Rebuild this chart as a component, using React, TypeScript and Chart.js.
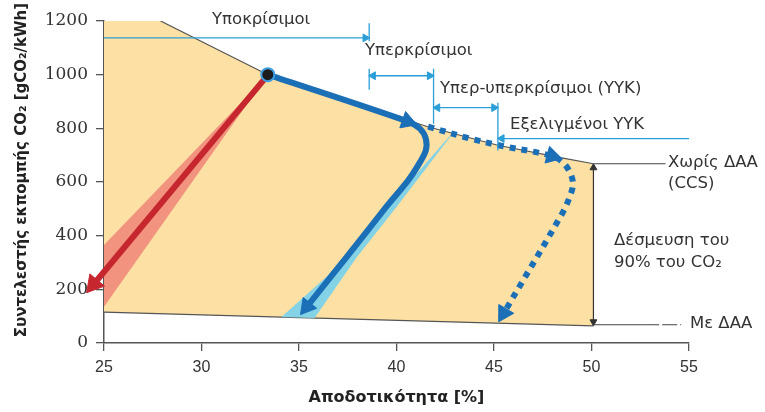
import React, { useEffect, useRef } from 'react';
import { Chart, registerables } from 'chart.js';

Chart.register(...registerables);

// ---- axes ----
const xMin = 25, xMax = 55, xStep = 5;
const yMin = 0, yMax = 1200, yStep = 200;
const xTitle = 'Αποδοτικότητα [%]';
const yTitle = 'Συντελεστής εκπομπής CO₂ [gCO₂/kWh]';

// ---- envelope (shaded region) ----
const envTopX = [25, 27.9, 33.4, 41.6, 45.2, 48.4, 50.1];
const envTopY = [1200, 1200, 1000, 806, 737, 691, 668];
const envBotX = [25, 50.1];
const envBotY = [115, 64];

// ---- red band + path ----
const redBandUpX = [25, 33.4];
const redBandUpY = [365, 1000];
const redBandLoX = [25, 33.4];
const redBandLoY = [135, 1000];
const redPathX = [33.3, 24.47];
const redPathY = [990, 219];

// ---- cyan band ----
const cyanEdgeAX = [34.1, 36.44, 42.75];
const cyanEdgeAY = [97, 249, 773];
const cyanEdgeBX = [34.1, 35.8, 37.96, 39.98, 42.8];
const cyanEdgeBY = [97, 93, 320, 505, 773];

// ---- blue main path ----
const bluePathX = [33.4, 40.56, 41.2, 41.5, 41.5, 41.1, 40.6, 39.45, 37.44, 35.4];
const bluePathY = [1000, 826, 799, 762, 717, 661, 606, 505, 320, 135];
const bluePathArrows = [1, 9];

// ---- blue dotted path ----
const dotPathX = [41.62, 43.77, 45.3, 47.98, 48.54, 48.9, 49.05, 48.85, 48.5, 45.5];
const dotPathY = [806, 762, 736, 697, 672, 635, 591, 539, 483, 111];
const dotPathArrows = [3, 9];

// ---- start point ----
const startX = [33.4];
const startY = [1000];

// ---- range markers (technology classes) ----
const subcritX = [25, 38.4];
const subcritY = [1137, 1137];
const bar1aX = [38.6, 38.6];
const bar1aY = [1192, 1125];
const bar1bX = [38.6, 38.6];
const bar1bY = [1022, 944];
const supercritX = [38.8, 41.7];
const supercritY = [996, 996];
const bar2X = [41.9, 41.9];
const bar2Y = [1022, 817];
const usupercritX = [42.1, 45.0];
const usupercritY = [877, 877];
const bar3X = [45.2, 45.2];
const bar3Y = [895, 717];
const advancedX = [45.4, 55];
const advancedY = [762, 762];

// ---- CCS markers ----
const ccsArrowX = [50.1, 50.1];
const ccsArrowY = [653, 79];
const noCcsLineX = [50.1, 53.8];
const noCcsLineY = [668, 668];
const withCcsSolidX = [50.1, 52.7];
const withCcsSolidY = [68, 68];
const withCcsDashX = [52.7, 54.6];
const withCcsDashY = [68, 68];

// ---- text labels ----
const labelTexts = ['Υποκρίσιμοι', 'Υπερκρίσιμοι', 'Υπερ-υπερκρίσιμοι (ΥΥΚ)', 'Εξελιγμένοι ΥΥΚ', 'Χωρίς ΔΑΑ', '(CCS)', 'Δέσμευση του', '90% του CO₂', 'Με ΔΑΑ'];
const labelX = [30.54, 38.38, 42.23, 45.82, 53.92, 53.92, 51.15, 51.15, 55.05];
const labelY = [1204, 1088, 947, 814, 672, 594, 383, 301, 71];

const pts = (xs: number[], ys: number[]) => xs.map((x, i) => ({ x, y: ys[i] }));

const BLUE = '#1b6fb6';
const LBLUE = '#2a9fd8';
const RED = '#c6262e';
const GREY = '#555';
const NONE = 'rgba(0,0,0,0)';

function arrowRotation(c: any) {
  const ds = c.dataset;
  const i = c.dataIndex;
  const d = ds.data;
  const xs = c.chart.scales.x;
  const ys = c.chart.scales.y;
  if (!xs || !ys || d.length < 2) return 0;
  let a, b;
  if (i === 0) { a = d[1]; b = d[0]; } else { a = d[i - 1]; b = d[Math.min(i + 1, d.length - 1)]; }
  const dx = xs.getPixelForValue(b.x) - xs.getPixelForValue(a.x);
  const dy = ys.getPixelForValue(b.y) - ys.getPixelForValue(a.y);
  const r = Math.atan2(dx, -dy) * 180 / Math.PI;
  return isFinite(r) ? r : 0;
}

function arrowLine(data: any[], color: string, width: number, arrows: number[], size: number, extra: any = {}) {
  return {
    data,
    borderColor: color,
    borderWidth: width,
    backgroundColor: color,
    fill: false,
    tension: 0,
    arrowIdx: arrows,
    arrowSize: size,
    pointStyle: 'triangle',
    pointRadius: (c: any) => (c.dataset.arrowIdx.includes(c.dataIndex) ? c.dataset.arrowSize : 0),
    pointHoverRadius: 20,
    pointRotation: arrowRotation,
    pointBackgroundColor: color,
    pointBorderColor: color,
    pointBorderWidth: 1,
    order: 2,
    ...extra,
  };
}

const labelPlugin = {
  id: 'labelPlugin',
  afterDatasetsDraw(chart: any) {
    const { ctx } = chart;
    const xs = chart.scales.x;
    const ys = chart.scales.y;
    ctx.save();
    ctx.font = '16.5px "DejaVu Sans", Verdana, sans-serif';
    ctx.fillStyle = '#333';
    ctx.textBaseline = 'middle';
    ctx.textAlign = 'left';
    labelTexts.forEach((t, i) => {
      ctx.fillText(t, xs.getPixelForValue(labelX[i]), ys.getPixelForValue(labelY[i]));
    });
    ctx.translate(22, 170);
    ctx.rotate(-Math.PI / 2);
    ctx.font = 'bold 15px "DejaVu Sans", Verdana, sans-serif';
    ctx.fillStyle = '#222';
    ctx.textAlign = 'center';
    ctx.fillText(yTitle, 0, 0);
    ctx.restore();
  },
};

export default function App() {
  const ref = useRef<HTMLCanvasElement>(null);
  useEffect(() => {
    const datasets: any[] = [
      // 0 envelope top (fill down to dataset 1)
      { data: pts(envTopX, envTopY), fill: 1, backgroundColor: '#fde0a3', borderColor: NONE, borderWidth: 0, pointRadius: 0, tension: 0, order: 20 },
      // 1 envelope bottom
      { data: pts(envBotX, envBotY), fill: false, borderColor: GREY, borderWidth: 1.2, pointRadius: 0, order: 19 },
      // 2 red band upper
      { data: pts(redBandUpX, redBandUpY), fill: 3, backgroundColor: '#f2937f', borderColor: NONE, borderWidth: 0, pointRadius: 0, order: 15 },
      // 3 red band lower
      { data: pts(redBandLoX, redBandLoY), fill: false, borderColor: NONE, borderWidth: 0, pointRadius: 0, order: 14 },
      // 4 cyan band edge A
      { data: pts(cyanEdgeAX, cyanEdgeAY), fill: 5, backgroundColor: '#84d2e5', borderColor: NONE, borderWidth: 0, pointRadius: 0, order: 13 },
      // 5 cyan band edge B
      { data: pts(cyanEdgeBX, cyanEdgeBY), fill: false, borderColor: NONE, borderWidth: 0, pointRadius: 0, order: 12 },
      // envelope top edge line
      { data: pts(envTopX.slice(1), envTopY.slice(1)), fill: false, borderColor: GREY, borderWidth: 1.2, pointRadius: 0, tension: 0, order: 18 },
      // red path
      arrowLine(pts(redPathX, redPathY), RED, 6, [1], 11, { clip: false, order: 5 }),
      // blue main path
      arrowLine(pts(bluePathX, bluePathY), BLUE, 6, bluePathArrows, 10, { tension: 0.3, order: 4, borderCapStyle: 'butt' }),
      // blue dotted path
      arrowLine(pts(dotPathX, dotPathY), BLUE, 6, dotPathArrows, 10, { tension: 0.35, order: 4, borderDash: [6, 6], borderCapStyle: 'butt' }),
      // start point
      {
        data: pts(startX, startY), showLine: false, pointRadius: 6.5, pointHoverRadius: 6.5,
        pointBackgroundColor: '#1d1d1d', pointBorderColor: '#3d9ee0', pointBorderWidth: 2, order: 0,
      },
      // range markers
      arrowLine(pts(subcritX, subcritY), LBLUE, 1.3, [1], 4.5),
      arrowLine(pts(bar1aX, bar1aY), LBLUE, 1.3, [], 0),
      arrowLine(pts(bar1bX, bar1bY), LBLUE, 1.3, [], 0),
      arrowLine(pts(supercritX, supercritY), LBLUE, 1.3, [0, 1], 4.5),
      arrowLine(pts(bar2X, bar2Y), LBLUE, 1.3, [], 0),
      arrowLine(pts(usupercritX, usupercritY), LBLUE, 1.3, [0, 1], 4.5),
      arrowLine(pts(bar3X, bar3Y), LBLUE, 1.3, [], 0),
      arrowLine(pts(advancedX, advancedY), LBLUE, 1.3, [0], 4.5, { clip: false }),
      // CCS markers
      arrowLine(pts(ccsArrowX, ccsArrowY), '#333', 1.2, [0, 1], 4),
      arrowLine(pts(noCcsLineX, noCcsLineY), '#444', 1.2, [], 0),
      arrowLine(pts(withCcsSolidX, withCcsSolidY), '#444', 1.2, [], 0),
      arrowLine(pts(withCcsDashX, withCcsDashY), '#444', 1.2, [], 0, { borderDash: [15, 3] }),
    ];

    const chart = new Chart(ref.current as HTMLCanvasElement, {
      type: 'line',
      data: { datasets },
      plugins: [labelPlugin],
      options: {
        responsive: false,
        animation: false,
        devicePixelRatio: 1,
        events: [],
        layout: { padding: { left: 0, right: 76, top: 20, bottom: 0 } },
        plugins: { legend: { display: false }, tooltip: { enabled: false } },
        scales: {
          x: {
            type: 'linear', min: xMin, max: xMax,
            ticks: { stepSize: xStep, color: '#333', padding: 7, font: { family: '"Liberation Sans", Arial, sans-serif', size: 16 }, callback: (v: any) => String(v) },
            grid: { drawOnChartArea: false, drawTicks: true, tickLength: 8, color: GREY, lineWidth: 1.3 },
            border: { display: true, color: GREY, width: 1.5 },
            title: { display: true, text: xTitle, color: '#222', padding: { top: 0, bottom: 5 }, font: { family: '"DejaVu Sans", Verdana, sans-serif', size: 16, weight: 'bold' } },
            afterFit: (s: any) => { s.height = 69; },
          },
          y: {
            type: 'linear', min: yMin, max: yMax,
            ticks: { stepSize: yStep, color: '#333', padding: 8, font: { family: '"DejaVu Serif", serif', size: 17 }, callback: (v: any) => String(v) },
            grid: { drawOnChartArea: false, drawTicks: true, tickLength: 8, color: GREY, lineWidth: 1.3 },
            border: { display: true, color: GREY, width: 1.5 },
            afterFit: (s: any) => { s.width = 104; },
          },
        },
      } as any,
    });
    return () => chart.destroy();
  }, []);
  return (
    <div style={{ position: 'absolute', left: 0, top: 0, width: 765, height: 412, background: '#fff' }}>
      <canvas ref={ref} width={765} height={412} style={{ display: 'block' }} />
    </div>
  );
}
